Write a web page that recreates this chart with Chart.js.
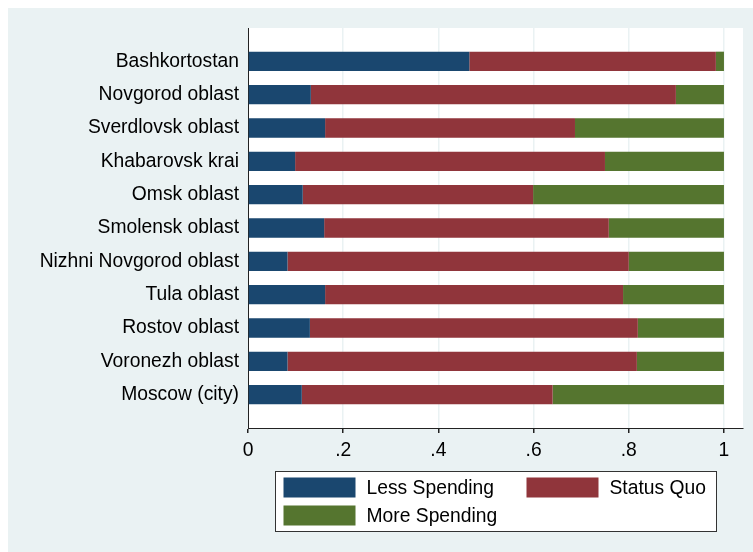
<!DOCTYPE html>
<html>
<head>
<meta charset="utf-8">
<script src="https://cdn.jsdelivr.net/npm/chart.js@4/dist/chart.umd.min.js"></script>
<style>
  html, body { margin: 0; padding: 0; background: #fff; }
  #wrap { width: 753px; height: 552px; }
</style>
</head>
<body>
<div id="wrap"><canvas id="chart" width="753" height="552"></canvas></div>
<script>
// regions, top to bottom
var regions = ['Bashkortostan', 'Novgorod oblast', 'Sverdlovsk oblast', 'Khabarovsk krai',
  'Omsk oblast', 'Smolensk oblast', 'Nizhni Novgorod oblast', 'Tula oblast',
  'Rostov oblast', 'Voronezh oblast', 'Moscow (city)'];

// shares
var lessSpending = [0.465, 0.132, 0.162, 0.099, 0.115, 0.160, 0.083, 0.162, 0.130, 0.083, 0.113];
var statusQuo    = [0.518, 0.767, 0.525, 0.651, 0.484, 0.598, 0.717, 0.626, 0.689, 0.734, 0.527];
var moreSpending = [0.017, 0.101, 0.313, 0.250, 0.401, 0.242, 0.200, 0.212, 0.181, 0.183, 0.360];

var seriesNames = ['Less Spending', 'Status Quo', 'More Spending'];
var seriesColors = ['#1a476f', '#90353b', '#55752f'];

var xTickValues = [0, 0.2, 0.4, 0.6, 0.8, 1];
var xTickLabels = ['0', '.2', '.4', '.6', '.8', '1'];

var FONT = 'Liberation Sans, Arial, sans-serif';
var FSIZE = 19.3;
var BG = '#eaf2f3';

// empty slot above and below, like stata leaves
function pad(arr, fill) { return [fill].concat(arr, [fill]); }

var bgPlugin = {
  id: 'bg',
  beforeDraw: function(chart) {
    var c = chart.ctx, a = chart.chartArea;
    c.save();
    c.fillStyle = '#fff';
    c.fillRect(0, 0, chart.width, chart.height);
    c.fillStyle = BG;
    c.fillRect(8, 8, chart.width - 8, chart.height - 8);
    c.fillStyle = '#fff';
    c.fillRect(a.left, a.top, a.right - a.left, a.bottom - a.top);
    c.restore();
  }
};

// legend box in two columns under the plot
var legendPlugin = {
  id: 'boxLegend',
  afterDraw: function(chart) {
    var c = chart.ctx, a = chart.chartArea;
    var boxW = 441, boxH = 60;
    var bx = Math.round((a.left + a.right) / 2 - boxW / 2) + 0.5;
    var by = Math.round(a.bottom + 43) + 0.5;
    c.save();
    c.fillStyle = '#fff';
    c.fillRect(bx, by, boxW, boxH);
    c.strokeStyle = '#333';
    c.lineWidth = 1;
    c.strokeRect(bx, by, boxW, boxH);
    c.font = FSIZE + 'px ' + FONT;
    c.textBaseline = 'middle';
    c.textAlign = 'left';
    chart.data.datasets.forEach(function(ds, i) {
      var col = i % 2, row = Math.floor(i / 2);
      var sx = bx + 8 + col * 243;
      var sy = by + 6 + row * 28;
      c.fillStyle = ds.backgroundColor;
      c.fillRect(sx, sy, 72, 20);
      c.fillStyle = '#000';
      c.fillText(ds.label, sx + 83, sy + 11);
    });
    c.restore();
  }
};

var datasets = [lessSpending, statusQuo, moreSpending].map(function(vals, i) {
  return {
    label: seriesNames[i],
    data: pad(vals, null),
    backgroundColor: seriesColors[i],
    borderWidth: 0,
    barPercentage: 0.58,
    categoryPercentage: 1
  };
});

new Chart(document.getElementById('chart'), {
  type: 'bar',
  data: { labels: pad(regions, ''), datasets: datasets },
  options: {
    indexAxis: 'y',
    responsive: false,
    animation: false,
    layout: { padding: { left: 0, right: 10, top: 28, bottom: 84 } },
    plugins: { legend: { display: false }, tooltip: { enabled: false } },
    scales: {
      y: {
        type: 'category',
        stacked: true,
        offset: false,
        grid: { display: false, drawTicks: false },
        border: { display: true, color: '#222', width: 1 },
        ticks: { color: '#000', font: { family: FONT, size: FSIZE }, padding: 9, autoSkip: false },
        afterFit: function(s) { s.width = 248; }
      },
      x: {
        type: 'linear',
        stacked: true,
        min: 0,
        max: 1.04,
        grid: { color: BG, lineWidth: 1.5, tickColor: '#222', tickLength: 5, drawTicks: true },
        border: { display: true, color: '#222', width: 1 },
        afterBuildTicks: function(s) {
          s.ticks = xTickValues.map(function(v) { return { value: v }; });
        },
        ticks: {
          color: '#000',
          font: { family: FONT, size: FSIZE },
          padding: 6,
          maxRotation: 0,
          callback: function(v, idx) { return xTickLabels[idx]; }
        },
        afterFit: function(s) { s.height = 40; }
      }
    }
  },
  plugins: [bgPlugin, legendPlugin]
});
</script>
</body>
</html>
